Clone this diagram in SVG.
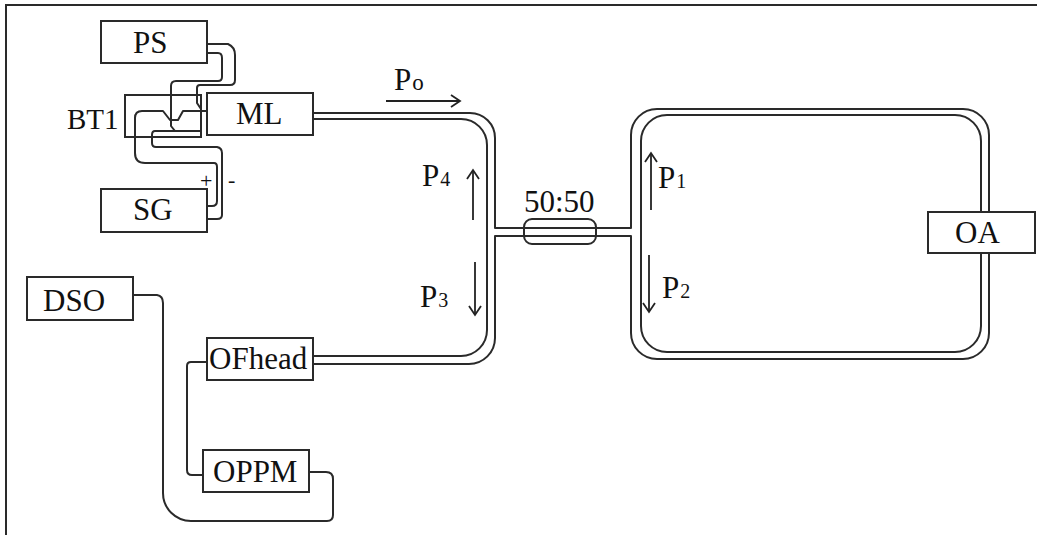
<svg xmlns="http://www.w3.org/2000/svg" width="1037" height="535" viewBox="0 0 1037 535">
<style>
text{font-family:"Liberation Serif","Times New Roman",serif;font-size:31px;fill:#111}
.sub{font-size:20px}
.sm{font-size:22px}
.box{fill:#fff;stroke:#2a2a2a;stroke-width:2}
.open{fill:none;stroke:#2a2a2a;stroke-width:2}
.w{fill:none;stroke:#2a2a2a;stroke-width:2;stroke-linejoin:round}
.a{fill:none;stroke:#222;stroke-width:1.8;marker-end:url(#arr)}
</style>
<defs>
<marker id="arr" markerUnits="userSpaceOnUse" markerWidth="24" markerHeight="24" refX="12" refY="12" orient="auto" overflow="visible">
<path d="M3,6 L12,12 L3,18" fill="none" stroke="#222" stroke-width="1.8"/>
</marker>
</defs>
<rect width="1037" height="535" fill="#fff"/>
<path d="M6,535 V5 H1037" fill="none" stroke="#2a2a2a" stroke-width="2"/>
<g id="connectors">
<path class="w" d="M313,113 H470 A25,25 0 0 1 495,138 V228 H631 V135 A26,26 0 0 1 657,109 H963 A26,26 0 0 1 989,135 V333 A26,26 0 0 1 963,359 H657 A26,26 0 0 1 631,333 V236 H495 V338 A26,26 0 0 1 469,364 H313"/>
<path class="w" d="M313,119 H461 A26,26 0 0 1 487,145 V330 A26,26 0 0 1 461,356 H313"/>
<path class="w" d="M667,115 H955 A26,26 0 0 1 981,141 V326 A26,26 0 0 1 955,352 H667 A26,26 0 0 1 641,326 V141 A26,26 0 0 1 667,115 Z"/>
<path class="w" d="M207,44 H228 Q235,47 235,55 V80 Q235,85 230,85 H200 Q197,85 197,88 V103 L201,109"/>
<path class="w" d="M207,53 H218 Q222,53 222,58 V77 Q222,81 218,81 H176 Q171,81 171,86 V126 L175,131"/>
<path class="w" d="M207,111 H183 L178,120 H170 L163,111 H142 Q135,111 135,118 V153 Q135,163 145,163 H214 Q217,163 217,167 V201 Q217,206 212,206 H207"/>
<path class="w" d="M201,131 H155 Q152,131 152,135 V143 Q152,147 156,147 H217 Q222,148 222,153 V215 Q222,219 217,219 H207"/>
<path class="w" d="M133,295 H157 Q163,296 163,303 V493 A28,28 0 0 0 191,521 H327 Q333,521 333,515 V479 Q333,472 326,472 H309"/>
<path class="w" d="M207,362 H191 Q187,362 187,366 V470 Q187,475 192,475 H203"/>
<path class="a" d="M386,101 H460"/>
<path class="a" d="M473,220 V170"/>
<path class="a" d="M475,262 V315"/>
<path class="a" d="M651,210 V153"/>
<path class="a" d="M649,255 V312"/>
</g>
<g id="PS"><rect class="box" x="101" y="21" width="106" height="42"/><text x="133" y="53">PS</text></g>
<g id="BT1"><rect class="open" x="125" y="95" width="76" height="42"/><text x="67" y="129" style="font-size:29px">BT1</text></g>
<g id="ML"><rect class="box" x="207" y="93" width="106" height="42"/><text x="236" y="124">ML</text></g>
<g id="SG"><rect class="box" x="101" y="189" width="106" height="43"/><text x="133" y="220">SG</text></g>
<g id="DSO"><rect class="box" x="27" y="277" width="106" height="43"/><text x="43" y="311">DSO</text></g>
<g id="OFhead"><rect class="box" x="207" y="338" width="106" height="42"/><text x="209" y="369">OFhead</text></g>
<g id="OPPM"><rect class="box" x="203" y="450" width="106" height="42"/><text x="213" y="482">OPPM</text></g>
<g id="OA"><rect class="box" x="928" y="212" width="107" height="41"/><text x="955" y="243">OA</text></g>
<g id="coupler"><rect class="open" x="524" y="219" width="72" height="25" rx="8"/><text x="524" y="212">50:50</text></g>
<g id="labels">
<text x="394" y="90">P<tspan class="sub" style="font-size:23px" dx="1">o</tspan></text>
<text x="422" y="186">P<tspan class="sub" dx="1">4</tspan></text>
<text x="420" y="307">P<tspan class="sub" dx="1">3</tspan></text>
<text x="658" y="188">P<tspan class="sub" dx="1">1</tspan></text>
<text x="662" y="298">P<tspan class="sub" dx="1">2</tspan></text>
<text class="sm" x="200" y="188">+</text>
<text class="sm" x="228" y="187">-</text>
</g>
</svg>
